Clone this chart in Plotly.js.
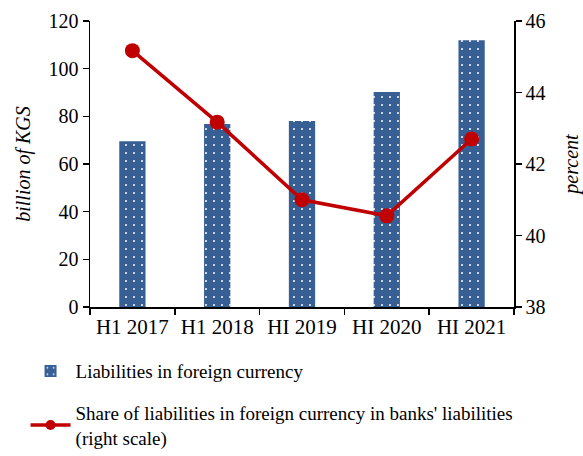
<!DOCTYPE html>
<html>
<head>
<meta charset="utf-8">
<script src="https://cdn.plot.ly/plotly-3.0.1.min.js"></script>
<style>html,body{margin:0;padding:0;background:#fff;}#chart{width:583px;height:456px;}</style>
</head>
<body>
<div id="chart"></div>
<script>
const categories = ["H1 2017", "H1 2018", "HI 2019", "HI 2020", "HI 2021"];
const liabilities = [69.5, 76.8, 78.0, 90.2, 111.9];
const sharePct = [45.17, 43.17, 41.0, 40.55, 42.7];
const barName = "Liabilities in foreign currency";
const lineName = "Share of liabilities in foreign currency in banks' liabilities<br>(right scale)";

const font = "Liberation Serif, Times New Roman, serif";
const blue = "#375F93";
const red = "#C00000";

const traces = [
  {
    type: "bar",
    x: categories,
    y: liabilities,
    name: barName,
    width: 0.31,
    legendgroup: "a",
    marker: {
      color: blue,
      line: {width: 0},
      pattern: {shape: ".", fgcolor: "#ffffff", bgcolor: blue, size: 8, solidity: 0.05}
    }
  },
  {
    type: "scatter",
    mode: "lines+markers",
    x: categories,
    y: sharePct,
    yaxis: "y2",
    name: lineName,
    showlegend: false,
    line: {color: red, width: 3.5},
    marker: {color: red, size: 15}
  },
  {
    type: "scatter",
    mode: "lines+markers",
    x: [null],
    y: [null],
    yaxis: "y2",
    name: lineName,
    legendgroup: "b",
    line: {color: red, width: 3.5},
    marker: {color: red, size: 10}
  }
];

const layout = {
  width: 583,
  height: 456,
  margin: {l: 90, r: 69, t: 21, b: 149, autoexpand: false},
  paper_bgcolor: "#fff",
  plot_bgcolor: "#fff",
  font: {family: font, size: 20, color: "#000"},
  showlegend: true,
  legend: {
    x: -0.152, xanchor: "left",
    y: -0.158, yanchor: "top",
    font: {family: font, size: 19, color: "#000"},
    traceorder: "grouped",
    tracegroupgap: 14,
    itemwidth: 40,
    bgcolor: "rgba(0,0,0,0)"
  },
  xaxis: {
    type: "category",
    showline: true, linecolor: "#000", linewidth: 1.5,
    ticks: "outside", tickson: "boundaries", ticklen: 6, tickcolor: "#000", tickwidth: 1.5,
    showgrid: false, zeroline: false,
    tickfont: {family: font, size: 21, color: "#000"}
  },
  yaxis: {
    range: [0, 120], dtick: 20,
    showline: true, linecolor: "#000", linewidth: 1.5,
    ticks: "outside", ticklen: 6, tickcolor: "#000", tickwidth: 1.5,
    showgrid: false, zeroline: false,
    tickfont: {family: font, size: 20, color: "#000"},
    title: {text: "<i>billion of KGS</i>", font: {family: font, size: 20, color: "#000"}, standoff: 12}
  },
  yaxis2: {
    overlaying: "y", side: "right",
    range: [38, 46], dtick: 2,
    showline: true, linecolor: "#000", linewidth: 1.5,
    ticks: "outside", ticklen: 6, tickcolor: "#000", tickwidth: 1.5,
    showgrid: false, zeroline: false,
    tickfont: {family: font, size: 20, color: "#000"},
    title: {text: "<i>percent</i>", font: {family: font, size: 20, color: "#000"}, standoff: 19}
  }
};

Plotly.newPlot("chart", traces, layout, {displayModeBar: false, staticPlot: true});
</script>
</body>
</html>
